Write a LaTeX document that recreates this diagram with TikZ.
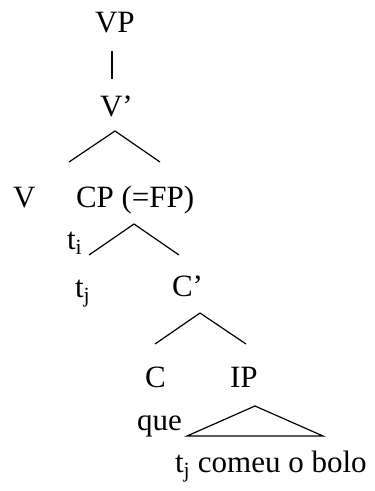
\documentclass[tikz,border=0pt]{standalone}
\usepackage{fontspec}
\setmainfont{Liberation Serif}
\begin{document}
\begin{tikzpicture}[x=1pt,y=-1pt,
  lab/.style={inner sep=0pt,outer sep=0pt,anchor=base west,font=\fontsize{31}{36}\selectfont},
  branch/.style={line width=1.2pt,line join=miter}]
\useasboundingbox (0,0) rectangle (375,491);
% labels
\node[lab] (VP) at (95,32) {VP};
\node[lab] (Vbar) at (100,116) {V’};
\node[lab] (V) at (13,207) {V};
\node[lab] (CP) at (76,207) {CP (=FP)};
\node[lab] (ti) at (67,249) {t\textsubscript{i}};
\node[lab] (tj) at (75,297) {t\textsubscript{j}};
\node[lab] (Cbar) at (172,296) {C’};
\node[lab] (C) at (145,387) {C};
\node[lab] (IP) at (230,387) {IP};
\node[lab] (que) at (137,430) {que};
\node[lab] (tjcomeu) at (175,472) {t\textsubscript{j} comeu o bolo};
% branch points
\coordinate (vpTop) at (112,51);
\coordinate (vpBot) at (112,79);
\coordinate (vbA) at (115,131);
\coordinate (vbL) at (69,162);
\coordinate (vbR) at (160,162);
\coordinate (cpA) at (134,224);
\coordinate (cpL) at (89,255);
\coordinate (cpR) at (179,255);
\coordinate (cbA) at (200,313);
\coordinate (cbL) at (155,344);
\coordinate (cbR) at (246,344);
\coordinate (ipA) at (255,406);
\coordinate (ipL) at (187,436);
\coordinate (ipR) at (323,436);
% connectors
\draw[branch] (vpTop) -- (vpBot);
\draw[branch] (vbL) -- (vbA) -- (vbR);
\draw[branch] (cpL) -- (cpA) -- (cpR);
\draw[branch] (cbL) -- (cbA) -- (cbR);
\draw[branch] (ipL) -- (ipA) -- (ipR) -- cycle;
\end{tikzpicture}
\end{document}
